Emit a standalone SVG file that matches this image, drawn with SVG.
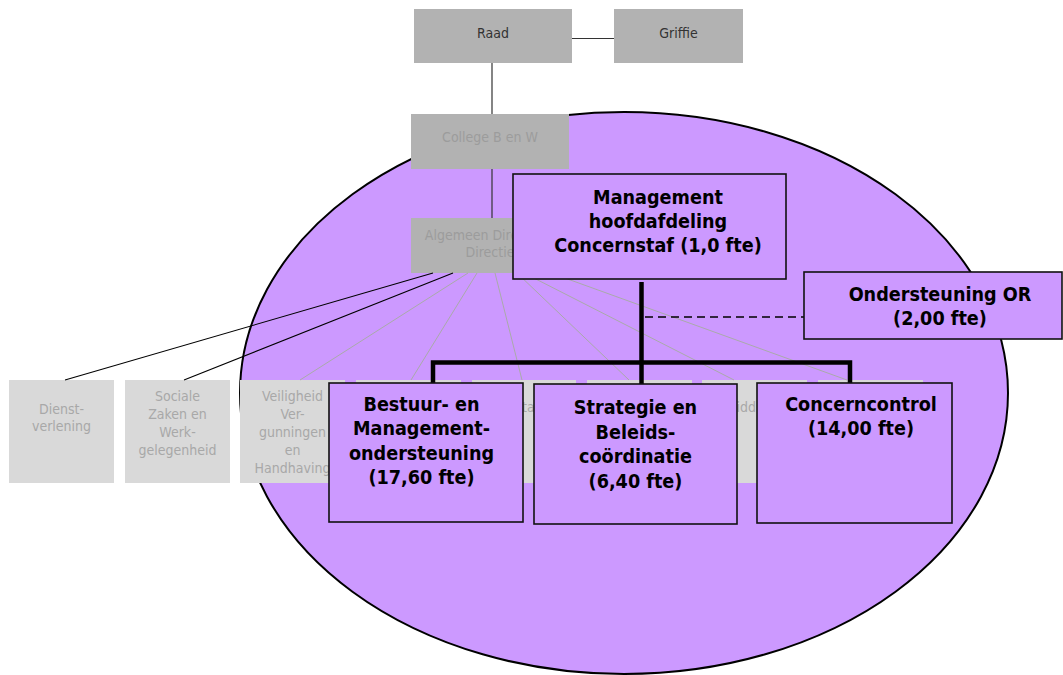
<svg xmlns="http://www.w3.org/2000/svg" width="1063" height="675" viewBox="0 0 1063 675">
  <style>
    .ell{fill:#CC99FF;stroke:#000;stroke-width:2}
    .top{fill:#B2B2B2}
    .sub{fill:#D9D9D9}
    .unit{fill:#CC99FF;stroke:#111;stroke-width:1.6}
    .t{font-family:"DejaVu Sans Condensed","DejaVu Sans",sans-serif;font-size:14px;text-anchor:middle}
    .t-dark{fill:#333}
    .t-fade{fill:#9C9C9C}
    .t-sub{fill:#A8A8A8}
    .tb{font-family:"DejaVu Sans Condensed","DejaVu Sans",sans-serif;font-weight:bold;font-size:19.6px;fill:#000;text-anchor:middle}
    .ln{stroke:#333;stroke-width:1.2;fill:none}
    .ln-blk{stroke:#000;stroke-width:1.1;fill:none}
    .ln-fade{stroke:#AAAAAA;stroke-width:1;fill:none}
    .tree{stroke:#000;stroke-width:4.5;fill:none;stroke-linejoin:miter}
    .dash{stroke:#000;stroke-width:1.5;stroke-dasharray:8 5;fill:none}
  </style>

  <!-- highlighted area -->
  <ellipse class="ell" cx="624" cy="393" rx="384" ry="281"/>

  <!-- governing bodies -->
  <g id="raad">
    <rect class="top" x="414" y="9" width="158" height="54"/>
    <text class="t t-dark" x="493" y="38">Raad</text>
  </g>
  <g id="griffie">
    <rect class="top" x="614" y="9" width="129" height="54"/>
    <text class="t t-dark" x="678.5" y="38">Griffie</text>
  </g>
  <g id="college">
    <rect class="top" x="411" y="114" width="158" height="55"/>
    <text class="t t-fade" x="490" y="142">College B en W</text>
  </g>
  <g id="directie">
    <rect class="top" x="411" y="218" width="158" height="55"/>
    <text class="t t-fade" x="490" y="239.5">Algemeen Directeur/</text>
    <text class="t t-fade" x="490" y="256.5">Directie</text>
  </g>

  <!-- departments -->
  <g id="dienstverlening">
    <rect class="sub" x="9" y="380" width="105" height="103"/>
    <text class="t t-sub" x="61.5" y="414">Dienst-</text>
    <text class="t t-sub" x="61.5" y="431">verlening</text>
  </g>
  <g id="szw">
    <rect class="sub" x="125" y="380" width="105" height="103"/>
    <text class="t t-sub" x="177.5" y="400.5">Sociale</text>
    <text class="t t-sub" x="177.5" y="418.5">Zaken en</text>
    <text class="t t-sub" x="177.5" y="436.5">Werk-</text>
    <text class="t t-sub" x="177.5" y="454.5">gelegenheid</text>
  </g>
  <g id="vvh">
    <rect class="sub" x="240" y="380" width="105" height="103"/>
    <text class="t t-sub" x="292.5" y="400.5">Veiligheid</text>
    <text class="t t-sub" x="292.5" y="418.5">Ver-</text>
    <text class="t t-sub" x="292.5" y="436.5">gunningen</text>
    <text class="t t-sub" x="292.5" y="454.5">en</text>
    <text class="t t-sub" x="292.5" y="472.5">Handhaving</text>
  </g>
  <g id="afdeling-4">
    <rect class="sub" x="356" y="380" width="105" height="103"/>
  </g>
  <g id="afdeling-5">
    <rect class="sub" x="472" y="380" width="104" height="103"/>
    <text class="t t-sub" x="522" y="412" style="text-anchor:start">ta</text>
  </g>
  <g id="afdeling-6">
    <rect class="sub" x="587" y="380" width="105" height="103"/>
  </g>
  <g id="afdeling-7">
    <rect class="sub" x="702" y="380" width="105" height="103"/>
    <text class="t t-sub" x="736.5" y="412" style="text-anchor:start">idd</text>
  </g>
  <g id="afdeling-8">
    <rect class="sub" x="818" y="380" width="105" height="103"/>
  </g>

  <!-- connectors -->
  <g id="connectors">
    <line class="ln" x1="572" y1="38.5" x2="614" y2="38.5"/>
    <line class="ln" x1="492" y1="63" x2="492" y2="114"/>
    <line class="ln" x1="492" y1="169" x2="492" y2="218"/>
    <line class="ln-blk" x1="433" y1="273" x2="65" y2="380"/>
    <line class="ln-blk" x1="453" y1="273" x2="184" y2="380"/>
    <line class="ln-fade" x1="468" y1="273" x2="300" y2="380"/>
    <line class="ln-fade" x1="477" y1="273" x2="411" y2="380"/>
    <line class="ln-fade" x1="495" y1="273" x2="522" y2="380"/>
    <line class="ln-fade" x1="517" y1="273" x2="629" y2="380"/>
    <line class="ln-fade" x1="524" y1="273" x2="734" y2="380"/>
    <line class="ln-fade" x1="551" y1="273" x2="847" y2="380"/>
    <line class="tree" x1="641.5" y1="282" x2="641.5" y2="384"/>
    <polyline class="tree" points="433,384 433,362.5 850,362.5 850,384"/>
    <line class="dash" x1="645" y1="317" x2="804" y2="317"/>
  </g>

  <!-- concern staff units -->
  <g id="management">
    <rect class="unit" x="513" y="174" width="273" height="105"/>
    <text class="tb" x="658" y="203.5">Management</text>
    <text class="tb" x="658" y="228">hoofdafdeling</text>
    <text class="tb" x="658" y="252">Concernstaf (1,0 fte)</text>
  </g>
  <g id="ondersteuning-or">
    <rect class="unit" x="804" y="272" width="258" height="67"/>
    <text class="tb" x="940" y="301">Ondersteuning OR</text>
    <text class="tb" x="940" y="325">(2,00 fte)</text>
  </g>
  <g id="bestuur">
    <rect class="unit" x="329" y="383" width="194" height="139"/>
    <text class="tb" x="421.5" y="410.5">Bestuur- en</text>
    <text class="tb" x="421.5" y="435">Management-</text>
    <text class="tb" x="421.5" y="459.5">ondersteuning</text>
    <text class="tb" x="421.5" y="484">(17,60 fte)</text>
  </g>
  <g id="strategie">
    <rect class="unit" x="534" y="384" width="203" height="140"/>
    <text class="tb" x="635.5" y="414">Strategie en</text>
    <text class="tb" x="635.5" y="438.5">Beleids-</text>
    <text class="tb" x="635.5" y="463">coördinatie</text>
    <text class="tb" x="635.5" y="487.5">(6,40 fte)</text>
  </g>
  <g id="concerncontrol">
    <rect class="unit" x="757" y="383" width="195" height="140"/>
    <text class="tb" x="861" y="410.5">Concerncontrol</text>
    <text class="tb" x="861" y="434.5">(14,00 fte)</text>
  </g>
</svg>
